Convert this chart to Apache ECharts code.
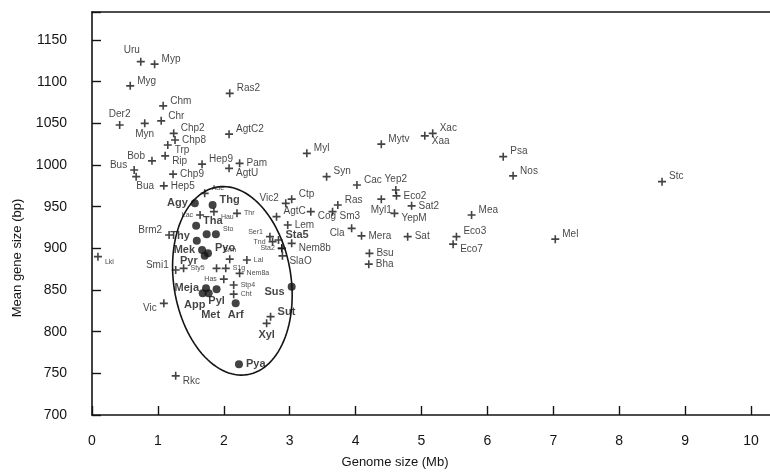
<!DOCTYPE html>
<html>
<head>
<meta charset="utf-8">
<script src="https://cdn.jsdelivr.net/npm/echarts@6/dist/echarts.min.js"></script>
<style>
html,body{margin:0;padding:0;background:#fff;}
#chart{width:770px;height:473px;}
</style>
</head>
<body>
<div id="chart"></div>
<script>
// ---- data: genomes marked with a cross ----
const crossNames = ['Uru','Myp','Myg','Chm','Der2','Myn','Chr','Chp2','Chp8','Trp','AgtC2','Ras2','Bob','Rip','Hep9','Pam','AgtU','Bus','Bua','Chp9','Hep5',
  'Aae','Hau','Lac','Thr','Brm','Ser1','Tnd','Sta2','Sta5','Lal','S1g','Nem8a','Sty5','','Smi1','Has','Stp4','Cht','Sut','Xyl','Vic','Rkc','Lkl','Brm2',
  'Vic2','Ctp','AgtC','Cog','Lem','Nem8b','SlaO','',
  'Myl','Mytv','Xac','Xaa','Syn','Cac','Yep2','Eco2','Ras','Sm3','Myl1','Sat2','YepM','Cla','Mera','Sat','Bsu','Bha','Eco3','Eco7','Mea','Psa','Nos','Stc','Mel'];
const crossX = [0.74,0.95,0.58,1.08,0.42,0.80,1.05,1.24,1.26,1.15,2.08,2.09,0.91,1.11,1.67,2.24,2.08,0.64,0.67,1.23,1.09,
  1.71,1.85,1.64,2.20,2.09,2.70,2.74,2.88,2.83,2.35,2.03,2.24,1.39,1.89,1.27,2.00,2.15,2.15,2.71,2.65,1.09,1.27,0.09,1.17,
  2.94,3.03,2.80,3.32,2.97,3.03,2.89,2.88,
  3.26,4.39,5.17,5.05,3.56,4.02,4.61,4.62,3.73,3.65,4.39,4.85,4.59,3.94,4.09,4.79,4.21,4.20,5.53,5.48,5.76,6.24,6.39,8.65,7.03];
const crossY = [1124,1121,1095,1071,1048,1050,1053,1038,1030,1024,1037,1086,1005,1011,1001,1002,996,994,986,989,975,
  966,944,940,942,887,914,908,900,910,886,876,870,876,876,874,863,856,845,818,810,834,747,890,916,
  954,959,938,944,928,906,891,900,
  1014,1025,1038,1035,986,976,970,963,952,944,959,951,942,924,915,914,894,881,914,905,940,1010,987,980,911];

// ---- data: genomes marked with a filled dot ----
const dotNames = ['Agy','Thg','Tha','','Sto','Thy','Mek','Pyo','Pyr','Meja','App','Met','Pyl','Arf','Sus','Pya'];
const dotX = [1.56,1.83,1.58,1.74,1.88,1.59,1.67,1.76,1.71,1.73,1.68,1.77,1.89,2.18,3.03,2.23];
const dotY = [954,952,927,917,917,909,898,894,891,852,846,846,851,834,854,761];

// ---- ellipse annotation: centre (Mb, bp), semi-axes (Mb, bp), tilt (deg) ----
const ellipseCentre = [2.13, 861];
const ellipseRadii = [0.89, 114];
const ellipseTilt = -9;

// axis ticks
const xTicks = [0,1,2,3,4,5,6,7,8,9,10];
const yTicks = [700,750,800,850,900,950,1000,1050,1100,1150];

// ---- label styling (kept apart from data) ----
const labelPlace = {
  Uru:'tl',Myp:'ru',Myg:'ru',Chm:'ru',Der2:'t',Myn:'b',Chr:'ru',Chp2:'ru',Chp8:'r',Trp:'rd',AgtC2:'ru',Ras2:'ru',Bob:'lu',Rip:'rd',
  Hep9:'ru',Pam:'r',AgtU:'rd',Bus:'lu',Bua:'br',Chp9:'r',Hep5:'r',
  Aae:'ru',Hau:'rd',Lac:'l',Thr:'r',Brm:'t',Ser1:'lu',Tnd:'l',Sta2:'l',Sta5:'ru',Lal:'r',S1g:'r',Nem8a:'r',Sty5:'r',Smi1:'lu',
  Has:'l',Stp4:'r',Cht:'r',Sut:'ru',Xyl:'b',Vic:'ld',Rkc:'rd',Lkl:'rd',Brm2:'lu',
  Vic2:'lu',Ctp:'ru',AgtC:'ru',Cog:'rd',Lem:'r',Nem8b:'rd',SlaO:'rd',
  Myl:'ru',Mytv:'ru',Xac:'ru',Xaa:'rd',Syn:'ru',Cac:'ru',Yep2:'t',Eco2:'r',Ras:'ru',Sm3:'rd',Myl1:'b',Sat2:'r',YepM:'rd',
  Cla:'ld',Mera:'r',Sat:'r',Bsu:'r',Bha:'r',Eco3:'ru',Eco7:'rd',Mea:'ru',Psa:'ru',Nos:'ru',Stc:'ru',Mel:'ru',
  Agy:'l',Thg:'ru',Tha:'ru',Sto:'ru',Thy:'lu',Mek:'l',Pyo:'ru',Pyr:'ld',Meja:'l',App:'bl',Met:'bb',Pyl:'b',Arf:'b',Sus:'ld',Pya:'r'
};
const smallLabels = ['Aae','Hau','Lac','Thr','Brm','Ser1','Tnd','Sta2','Lal','S1g','Nem8a','Sty5','Has','Stp4','Cht','Sto','Lkl'];
const boldCross = ['Sut','Xyl','Sus','Sta5'];

const FONT = '"Liberation Sans", Arial, Helvetica, sans-serif';
const INK = '#141414';

function placement(code) {
  switch (code) {
    case 'r':  return {position:'right', distance:3, offset:[0,0]};
    case 'ru': return {position:'right', distance:3, offset:[0,-5]};
    case 'rd': return {position:'right', distance:3, offset:[0,5]};
    case 'l':  return {position:'left', distance:3, offset:[0,0]};
    case 'lu': return {position:'left', distance:3, offset:[0,-5]};
    case 'ld': return {position:'left', distance:3, offset:[0,5]};
    case 't':  return {position:'top', distance:2, offset:[0,0]};
    case 'tl': return {position:'top', distance:2, offset:[-9,0]};
    case 'b':  return {position:'bottom', distance:2, offset:[0,0]};
    case 'bb': return {position:'bottom', distance:2, offset:[2,10]};
    case 'bl': return {position:'bottom', distance:2, offset:[-8,0]};
    case 'br': return {position:'bottom', distance:1, offset:[9,0]};
    default:   return {position:'right', distance:3, offset:[0,0]};
  }
}
function labelFor(name, isDot) {
  if (!name) return {show:false};
  const p = placement(labelPlace[name]);
  let size = 10, weight = 'normal';
  if (smallLabels.includes(name)) { size = 7; }
  else if (isDot || boldCross.includes(name)) { size = 11; weight = 'bold'; }
  return Object.assign({show:true, formatter:name, fontSize:size, fontWeight:weight, fontFamily:FONT, color:INK}, p);
}

const PLUS = 'path://M4,0H6V4H10V6H6V10H4V6H0V4H4Z';

const crossData = crossNames.map((n,i)=>({value:[crossX[i],crossY[i]], name:n, label:labelFor(n,false)}));
const dotData = dotNames.map((n,i)=>({value:[dotX[i],dotY[i]], name:n, label:labelFor(n,true)}));

const chart = echarts.init(document.getElementById('chart'), null, {renderer:'canvas'});
const gridLeft = 92, gridTop = 12, plotW = 700, plotH = 403;
const pxPerMb = 65.9;
const xMax = plotW / pxPerMb;
const yMax = 700 + plotH * 1.2;

const axisLineStyle = {color:INK, width:1.6};

chart.setOption({
  animation:false,
  backgroundColor:'#fff',
  grid:{left:gridLeft, top:gridTop, width:plotW, height:plotH, show:false, containLabel:false, outerBoundsMode:'none'},
  xAxis:[{
    type:'value', min:0, max:xMax, interval:1,
    axisLine:{show:true, onZero:false, lineStyle:axisLineStyle},
    axisTick:{show:true, inside:true, length:9, lineStyle:{color:INK, width:1.4}},
    splitLine:{show:false},
    axisLabel:{margin:19, fontSize:14, color:INK, fontFamily:FONT,
      formatter:v => xTicks.includes(v) ? String(v) : ''}
  },{
    type:'value', position:'top', min:0, max:xMax,
    axisLine:{show:true, onZero:false, lineStyle:axisLineStyle},
    axisTick:{show:false}, axisLabel:{show:false}, splitLine:{show:false}
  }],
  yAxis:{
    type:'value', min:700, max:yMax, interval:50,
    axisLine:{show:true, onZero:false, lineStyle:axisLineStyle},
    axisTick:{show:true, inside:true, length:9, lineStyle:{color:INK, width:1.4}},
    splitLine:{show:false},
    axisLabel:{margin:25, fontSize:14, color:INK, fontFamily:FONT,
      formatter:v => yTicks.includes(v) ? String(v) : ''}
  },
  graphic:[
    {type:'text', x:395, y:462, style:{text:'Genome size (Mb)', font:'13px '+FONT, fill:INK, textAlign:'center', textVerticalAlign:'middle'}},
    {type:'text', rotation:Math.PI/2, x:17, y:258, style:{text:'Mean gene size (bp)', font:'13px '+FONT, fill:INK, textAlign:'center', textVerticalAlign:'middle'}}
  ],
  series:[
    {
      type:'custom', silent:true, z:1,
      data:[[ellipseCentre[0], ellipseCentre[1], ellipseRadii[0], ellipseRadii[1], ellipseTilt]],
      renderItem:function(params, api){
        const c = api.coord([api.value(0), api.value(1)]);
        const rx = api.size([api.value(2), 0])[0];
        const ry = api.size([0, api.value(3)])[1];
        const phi = api.value(4) * Math.PI / 180;
        const pts = [];
        for (let k = 0; k <= 120; k++) {
          const t = k / 120 * Math.PI * 2;
          const u = rx * Math.cos(t), v = ry * Math.sin(t);
          pts.push([c[0] + u*Math.cos(phi) - v*Math.sin(phi), c[1] + u*Math.sin(phi) + v*Math.cos(phi)]);
        }
        return {type:'polyline', shape:{points:pts}, style:{stroke:INK, lineWidth:1.6, fill:null}};
      }
    },
    {
      type:'scatter', name:'cross', symbol:PLUS, symbolSize:8, z:3,
      itemStyle:{color:INK},
      data:crossData
    },
    {
      type:'scatter', name:'dot', symbol:'circle', symbolSize:8, z:3,
      itemStyle:{color:INK},
      data:dotData
    }
  ]
});
</script>
</body>
</html>
